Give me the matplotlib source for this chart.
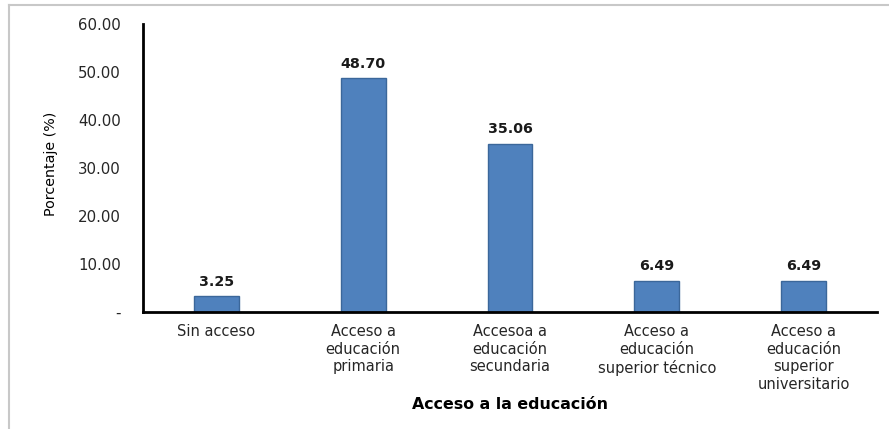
import matplotlib
matplotlib.use("Agg")
import matplotlib.pyplot as plt
from matplotlib.lines import Line2D

categories = ["Sin acceso", "Acceso a\neducación\nprimaria", "Accesoa a\neducación\nsecundaria",
              "Acceso a\neducación\nsuperior técnico", "Acceso a\neducación\nsuperior\nuniversitario"]
values = [3.25, 48.70, 35.06, 6.49, 6.49]
yticks = [0, 10, 20, 30, 40, 50, 60]
ytick_labels = ["-", "10.00", "20.00", "30.00", "40.00", "50.00", "60.00"]

plt.rcParams['font.family'] = ['DejaVu Sans']

fig = plt.figure(figsize=(8.89, 4.29), dpi=100)
ax = fig.add_axes([143/889, 1-312/429, (877-143)/889, (312-24)/429])

x = list(range(len(categories)))
ax.bar(x, values, width=0.305, color="#4F81BD", edgecolor="#3B679A", linewidth=1.0)
for xi, v in zip(x, values):
    ax.annotate(f"{v:.2f}", (xi, v), xytext=(0, 7.5), textcoords="offset points",
                ha="center", va="baseline", fontsize=10.3, fontweight="bold", color="#1a1a1a")

ax.set_xlim(-0.5, len(categories) - 0.5)
ax.set_ylim(0, 60)
ax.set_yticks(yticks)
ax.set_yticklabels(ytick_labels, fontsize=10.8, color="#262626")
ax.set_xticks(x)
ax.set_xticklabels(categories, fontsize=10.5, color="#262626", linespacing=1.2, va="top")
ax.tick_params(axis="y", length=0, pad=16)
ax.tick_params(axis="x", length=0, pad=9)
for s in ["top", "right"]:
    ax.spines[s].set_visible(False)
for s in ["left", "bottom"]:
    ax.spines[s].set_linewidth(2)
    ax.spines[s].set_color("black")

fig.text(51/889, 1-164/429, "Porcentaje (%)", rotation=90, ha="center", va="center",
         fontsize=10.3, color="black")
fig.text(510/889, 1-409/429, "Acceso a la educación", ha="center", va="baseline",
         fontsize=11.4, fontweight="bold", color="black")

# outer light border (top and left)
fig.add_artist(Line2D([9/889, 9/889], [0, 1-5/429], transform=fig.transFigure, color="#c8c8c8", lw=1.5))
fig.add_artist(Line2D([9/889, 1], [1-5/429, 1-5/429], transform=fig.transFigure, color="#c8c8c8", lw=1.5))

fig.savefig("out.png", dpi=100)
